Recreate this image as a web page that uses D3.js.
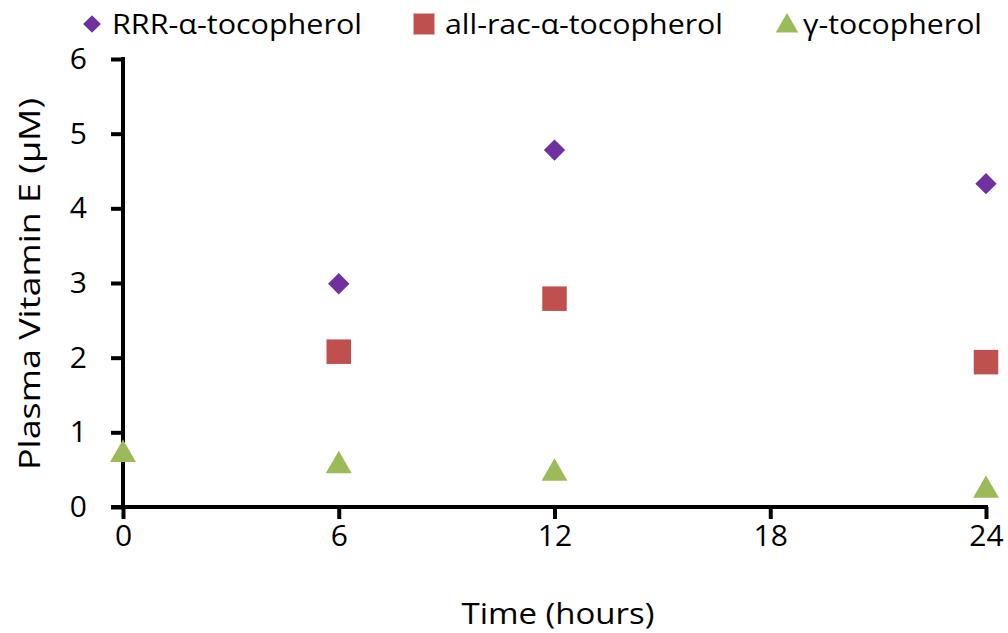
<!DOCTYPE html>
<html><head><meta charset="utf-8">
<script src="https://cdn.jsdelivr.net/npm/d3@7"></script>
<style>body{margin:0;background:#fff}svg{display:block}text{font-family:"Open Sans",sans-serif;fill:#000}</style>
</head><body><div id="chart"></div>
<script>
const hours = [0, 6, 12, 24];
const xTicks = [0, 6, 12, 18, 24];
const yTicks = [0, 1, 2, 3, 4, 5, 6];
const seriesNames = ["RRR-α-tocopherol", "all-rac-α-tocopherol", "γ-tocopherol"];
const rrrValues = [null, 2.99, 4.78, 4.33];
const allRacValues = [null, 2.08, 2.79, 1.94];
const gammaValues = [0.73, 0.58, 0.48, 0.25];
const colors = ["#7030A0", "#C0504D", "#9BBB59"];
const shapes = [d3.symbolDiamond2, d3.symbolSquare, d3.symbolTriangle];

const W = 1008, H = 633;
const svg = d3.select("#chart").append("svg").attr("width", W).attr("height", H);
const x = d3.scaleLinear().domain([0, 24]).range([123, 986]);
const y = d3.scaleLinear().domain([0, 6]).range([507, 59]);

const xAxis = svg.append("g").attr("transform", "translate(0,507)")
  .call(d3.axisBottom(x).tickValues(xTicks).tickFormat(d3.format("d")).tickSize(12).tickSizeOuter(0).tickPadding(6));
const yAxis = svg.append("g").attr("transform", "translate(123,0)")
  .call(d3.axisLeft(y).tickValues(yTicks).tickFormat(d3.format("d")).tickSize(12).tickSizeOuter(0).tickPadding(24));
[xAxis, yAxis].forEach(g => {
  g.attr("font-size", null).attr("font-family", null);
  g.selectAll("path.domain").attr("stroke", "#000").attr("stroke-width", 4);
  g.selectAll(".tick line").attr("stroke", "#000").attr("stroke-width", 4);
  g.selectAll(".tick text").style("font-size", "30px");
});
xAxis.select("path.domain").attr("d", `M111,0H${988}`);
yAxis.select("path.domain").attr("d", `M0,509V57`);

svg.append("text").attr("x", 558).attr("y", 624).attr("text-anchor", "middle")
  .style("font-size", "29px").attr("textLength", 193).attr("lengthAdjust", "spacingAndGlyphs").text("Time (hours)");
svg.append("text").attr("transform", "translate(40,284) rotate(-90)").attr("text-anchor", "middle")
  .style("font-size", "29px").attr("textLength", 372).attr("lengthAdjust", "spacingAndGlyphs").text("Plasma Vitamin E (μM)");

const data = [rrrValues, allRacValues, gammaValues];
const sizes = [290, 600, 290];
data.forEach((vals, i) => {
  svg.append("g").selectAll("path").data(hours.map((h, j) => ({h, v: vals[j]})).filter(d => d.v != null))
    .join("path")
    .attr("transform", d => `translate(${x(d.h)},${y(d.v) + (i === 2 ? 2 : 0)})`)
    .attr("d", d3.symbol().type(shapes[i]).size(sizes[i]))
    .attr("fill", colors[i]);
});

const legendMarkX = [92, 424, 787];
const legendTextX = [112, 445, 803];
const legendLen = [250, 278, 179];
const legendSizes = [200, 440, 220];
seriesNames.forEach((n, i) => {
  svg.append("path").attr("transform", `translate(${legendMarkX[i]},${i === 2 ? 26 : 24})`)
    .attr("d", d3.symbol().type(shapes[i]).size(legendSizes[i])).attr("fill", colors[i]);
  svg.append("text").attr("x", legendTextX[i]).attr("y", 34).style("font-size", "28px")
    .attr("textLength", legendLen[i]).attr("lengthAdjust", "spacingAndGlyphs").text(n);
});
</script></body></html>
